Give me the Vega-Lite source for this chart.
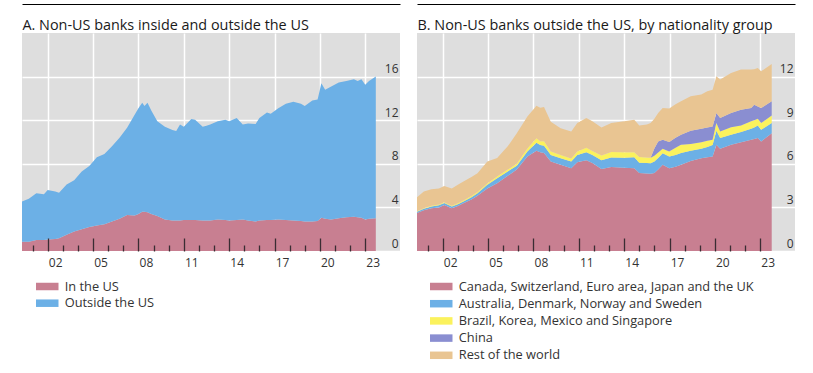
{
  "$schema": "https://vega.github.io/schema/vega-lite/v6.json",
  "background": "white",
  "padding": {"left": 22, "top": 4, "right": 5, "bottom": 5},
  "spacing": 17,
  "resolve": {"scale": {"color": "independent"}, "legend": {"color": "independent"}},
  "config": {
    "view": {"fill": "#dedede", "stroke": null},
    "font": "Open Sans",
    "axis": {"labelFont": "Open Sans", "labelFontSize": 12, "labelColor": "#333333", "titleFont": "Open Sans"},
    "legend": {"labelFont": "Open Sans", "labelFontSize": 12.8, "labelColor": "#333333"}
  },
  "hconcat": [
    {
      "width": 378,
      "height": 218,
      "resolve": {"axis": {"x": "independent"}},
      "layer": [
        {
          "data": {"values": [
            {"t": 2000.25, "k1": 0.85, "k2": 3.65},
            {"t": 2000.75, "k1": 0.86, "k2": 3.94},
            {"t": 2001.25, "k1": 1.0, "k2": 4.3},
            {"t": 2001.75, "k1": 1.0, "k2": 4.2},
            {"t": 2002.0, "k1": 1.05, "k2": 4.55},
            {"t": 2002.5, "k1": 1.1, "k2": 4.35},
            {"t": 2002.75, "k1": 1.17, "k2": 4.18},
            {"t": 2003.25, "k1": 1.5, "k2": 4.6},
            {"t": 2003.75, "k1": 1.8, "k2": 4.7},
            {"t": 2004.25, "k1": 2.0, "k2": 5.3},
            {"t": 2004.75, "k1": 2.2, "k2": 5.6},
            {"t": 2005.25, "k1": 2.35, "k2": 6.25},
            {"t": 2005.75, "k1": 2.45, "k2": 6.45},
            {"t": 2006.25, "k1": 2.7, "k2": 6.9},
            {"t": 2006.75, "k1": 2.95, "k2": 7.45},
            {"t": 2007.25, "k1": 3.3, "k2": 8.0},
            {"t": 2007.75, "k1": 3.25, "k2": 9.25},
            {"t": 2008.0, "k1": 3.4, "k2": 9.7},
            {"t": 2008.25, "k1": 3.6, "k2": 10.0},
            {"t": 2008.4, "k1": 3.6, "k2": 9.7},
            {"t": 2008.6, "k1": 3.55, "k2": 10.05},
            {"t": 2008.85, "k1": 3.4, "k2": 9.5},
            {"t": 2009.25, "k1": 3.2, "k2": 8.7},
            {"t": 2009.75, "k1": 2.9, "k2": 8.5},
            {"t": 2010.25, "k1": 2.8, "k2": 8.3},
            {"t": 2010.5, "k1": 2.8, "k2": 8.2},
            {"t": 2010.75, "k1": 2.8, "k2": 8.8},
            {"t": 2011.0, "k1": 2.85, "k2": 8.55},
            {"t": 2011.5, "k1": 2.85, "k2": 9.25},
            {"t": 2011.75, "k1": 2.85, "k2": 9.2},
            {"t": 2012.25, "k1": 2.8, "k2": 8.6},
            {"t": 2012.5, "k1": 2.8, "k2": 8.7},
            {"t": 2012.75, "k1": 2.8, "k2": 8.8},
            {"t": 2013.25, "k1": 2.9, "k2": 9.0},
            {"t": 2013.75, "k1": 2.85, "k2": 9.2},
            {"t": 2014.0, "k1": 2.8, "k2": 9.1},
            {"t": 2014.5, "k1": 2.85, "k2": 9.35},
            {"t": 2014.9, "k1": 2.9, "k2": 8.7},
            {"t": 2015.25, "k1": 2.8, "k2": 8.9},
            {"t": 2015.75, "k1": 2.7, "k2": 8.95},
            {"t": 2016.0, "k1": 2.8, "k2": 9.4},
            {"t": 2016.5, "k1": 2.85, "k2": 9.85},
            {"t": 2016.75, "k1": 2.85, "k2": 9.75},
            {"t": 2017.25, "k1": 2.9, "k2": 10.2},
            {"t": 2017.75, "k1": 2.85, "k2": 10.65},
            {"t": 2018.25, "k1": 2.8, "k2": 10.9},
            {"t": 2018.75, "k1": 2.75, "k2": 10.75},
            {"t": 2019.0, "k1": 2.7, "k2": 10.6},
            {"t": 2019.5, "k1": 2.7, "k2": 11.1},
            {"t": 2019.85, "k1": 2.75, "k2": 11.15},
            {"t": 2020.1, "k1": 3.05, "k2": 12.35},
            {"t": 2020.35, "k1": 2.95, "k2": 11.85},
            {"t": 2020.75, "k1": 2.9, "k2": 12.2},
            {"t": 2021.25, "k1": 3.0, "k2": 12.45},
            {"t": 2021.75, "k1": 3.1, "k2": 12.5},
            {"t": 2022.25, "k1": 3.15, "k2": 12.6},
            {"t": 2022.5, "k1": 3.1, "k2": 12.5},
            {"t": 2022.75, "k1": 3.05, "k2": 12.7},
            {"t": 2023.0, "k1": 2.9, "k2": 12.35},
            {"t": 2023.25, "k1": 2.95, "k2": 12.65},
            {"t": 2023.7, "k1": 3.0, "k2": 13.0}
          ]},
          "transform": [{"fold": ["k1", "k2"], "as": ["key", "value"]}],
          "mark": {"type": "area", "clip": true},
          "encoding": {
            "x": {"field": "t", "type": "quantitative",
              "scale": {"domain": [2000.3, 2025.3], "nice": false, "zero": false},
              "axis": {"orient": "bottom", "values": [2002, 2005, 2008, 2011, 2014, 2017, 2020, 2023], "grid": true, "gridColor": "#ffffff", "gridWidth": 1.5, "ticks": false, "domain": false, "labelExpr": "slice(toString(datum.value), 2)", "labelOffset": 7.5, "labelPadding": 6, "labelFlush": false, "labelOverlap": false, "title": null, "zindex": 0}},
            "y": {"field": "value", "type": "quantitative", "stack": "zero",
              "scale": {"domain": [0, 20], "nice": false},
              "axis": {"orient": "right", "values": [0, 4, 8, 12, 16], "grid": true, "gridColor": "#ffffff", "gridWidth": 1.5, "ticks": false, "domain": false, "labelAlign": "right", "labelPadding": -2, "labelBaseline": "alphabetic", "labelOffset": -4, "title": null}},
            "color": {"field": "key", "type": "nominal",
              "scale": {"domain": ["k1", "k2"], "range": ["#c87f91", "#6cb0e6"]},
              "legend": {"orient": "none", "legendX": 17.75, "legendY": 246, "title": null, "symbolType": "M-1.5,-0.5H1.5V0.5H-1.5Z", "symbolSize": 225, "symbolStrokeWidth": 0, "labelOffset": 10, "rowPadding": 1.7, "labelExpr": "datum.label == 'k1' ? 'In the US' : 'Outside the US'"}},
            "order": {"field": "key", "sort": "ascending"}
          }
        },
        {
          "data": {"values": [{"t": 2010}]},
          "mark": {"type": "point", "opacity": 0},
          "encoding": {
            "x": {"field": "t", "type": "quantitative",
              "scale": {"domain": [2000.3, 2025.3], "nice": false, "zero": false},
              "axis": {"orient": "bottom", "offset": -13, "values": [2002, 2005, 2008, 2011, 2014, 2017, 2020, 2023], "grid": false, "ticks": true, "tickSize": 13, "tickColor": "#3a2d33", "tickWidth": 1.3, "domain": false, "labels": false, "title": null, "zindex": 2}}
          }
        },
        {
          "data": {"values": [{"t": 2010}]},
          "mark": {"type": "point", "opacity": 0},
          "encoding": {
            "x": {"field": "t", "type": "quantitative",
              "scale": {"domain": [2000.3, 2025.3], "nice": false, "zero": false},
              "axis": {"orient": "bottom", "offset": -6, "values": [2001, 2003, 2004, 2006, 2007, 2009, 2010, 2012, 2013, 2015, 2016, 2018, 2019, 2021, 2022], "grid": false, "ticks": true, "tickSize": 6, "tickColor": "#3a2d33", "tickWidth": 1.3, "domain": false, "labels": false, "title": null, "zindex": 2}}
          }
        },
        {
          "data": {"values": [{"t": 2010}]},
          "mark": {"type": "point", "opacity": 0},
          "encoding": {
            "x": {"field": "t", "type": "quantitative",
              "scale": {"domain": [2000.3, 2025.3], "nice": false, "zero": false},
              "axis": {"orient": "top", "offset": 29, "domain": true, "domainColor": "#000000", "domainWidth": 1, "ticks": false, "labels": false, "grid": false, "title": "A. Non-US banks inside and outside the US", "titleX": 0, "titleY": 25, "titleAlign": "left", "titleAnchor": "start", "titleBaseline": "alphabetic", "titleFontSize": 14.4, "titleFontWeight": "normal", "titleColor": "#1a1a1a"}}
          }
        }
      ]
    },
    {
      "width": 378,
      "height": 218,
      "resolve": {"axis": {"x": "independent"}},
      "layer": [
        {
          "data": {"values": [
            {"t": 2000.25, "k1": 2.6, "k2": 0.08, "k3": 0.04, "k4": 0, "k5": 0.93},
            {"t": 2000.75, "k1": 2.8, "k2": 0.1, "k3": 0.05, "k4": 0, "k5": 1.15},
            {"t": 2001.25, "k1": 2.95, "k2": 0.12, "k3": 0.05, "k4": 0, "k5": 1.13},
            {"t": 2001.75, "k1": 3.0, "k2": 0.15, "k3": 0.05, "k4": 0, "k5": 1.1},
            {"t": 2002.1, "k1": 3.17, "k2": 0.13, "k3": 0.06, "k4": 0, "k5": 1.12},
            {"t": 2002.6, "k1": 2.95, "k2": 0.11, "k3": 0.06, "k4": 0, "k5": 1.18},
            {"t": 2003.0, "k1": 3.1, "k2": 0.12, "k3": 0.06, "k4": 0, "k5": 1.27},
            {"t": 2003.4, "k1": 3.3, "k2": 0.12, "k3": 0.08, "k4": 0, "k5": 1.3},
            {"t": 2003.9, "k1": 3.55, "k2": 0.15, "k3": 0.08, "k4": 0, "k5": 1.32},
            {"t": 2004.3, "k1": 3.8, "k2": 0.18, "k3": 0.08, "k4": 0, "k5": 1.29},
            {"t": 2004.95, "k1": 4.3, "k2": 0.25, "k3": 0.1, "k4": 0, "k5": 1.5},
            {"t": 2005.6, "k1": 4.67, "k2": 0.33, "k3": 0.12, "k4": 0, "k5": 1.28},
            {"t": 2006.3, "k1": 5.17, "k2": 0.3, "k3": 0.13, "k4": 0, "k5": 1.6},
            {"t": 2006.9, "k1": 5.6, "k2": 0.26, "k3": 0.14, "k4": 0, "k5": 2.1},
            {"t": 2007.6, "k1": 6.5, "k2": 0.35, "k3": 0.2, "k4": 0, "k5": 2.21},
            {"t": 2008.2, "k1": 6.9, "k2": 0.55, "k3": 0.3, "k4": 0, "k5": 2.25},
            {"t": 2008.45, "k1": 6.8, "k2": 0.5, "k3": 0.25, "k4": 0, "k5": 2.3},
            {"t": 2008.7, "k1": 6.75, "k2": 0.5, "k3": 0.3, "k4": 0, "k5": 2.35},
            {"t": 2009.15, "k1": 6.15, "k2": 0.45, "k3": 0.25, "k4": 0, "k5": 2.05},
            {"t": 2009.8, "k1": 5.93, "k2": 0.45, "k3": 0.22, "k4": 0, "k5": 1.85},
            {"t": 2010.5, "k1": 5.7, "k2": 0.45, "k3": 0.22, "k4": 0, "k5": 1.86},
            {"t": 2010.9, "k1": 6.1, "k2": 0.5, "k3": 0.25, "k4": 0, "k5": 1.95},
            {"t": 2011.5, "k1": 6.25, "k2": 0.55, "k3": 0.3, "k4": 0, "k5": 2.05},
            {"t": 2011.9, "k1": 6.05, "k2": 0.55, "k3": 0.28, "k4": 0, "k5": 2.04},
            {"t": 2012.5, "k1": 5.65, "k2": 0.6, "k3": 0.32, "k4": 0, "k5": 1.93},
            {"t": 2013.15, "k1": 5.78, "k2": 0.65, "k3": 0.38, "k4": 0, "k5": 1.99},
            {"t": 2014.0, "k1": 5.72, "k2": 0.7, "k3": 0.38, "k4": 0, "k5": 2.12},
            {"t": 2014.67, "k1": 5.7, "k2": 0.75, "k3": 0.35, "k4": 0, "k5": 2.23},
            {"t": 2015.0, "k1": 5.36, "k2": 0.72, "k3": 0.38, "k4": 0, "k5": 2.18},
            {"t": 2015.5, "k1": 5.33, "k2": 0.72, "k3": 0.38, "k4": 0, "k5": 2.27},
            {"t": 2015.75, "k1": 5.31, "k2": 0.72, "k3": 0.38, "k4": 0, "k5": 2.39},
            {"t": 2016.0, "k1": 5.36, "k2": 0.8, "k3": 0.4, "k4": 0.5, "k5": 2.04},
            {"t": 2016.25, "k1": 5.6, "k2": 0.8, "k3": 0.38, "k4": 0.75, "k5": 1.97},
            {"t": 2016.55, "k1": 5.93, "k2": 0.8, "k3": 0.3, "k4": 0.63, "k5": 2.18},
            {"t": 2016.98, "k1": 5.7, "k2": 0.8, "k3": 0.35, "k4": 0.65, "k5": 2.3},
            {"t": 2017.4, "k1": 5.8, "k2": 0.8, "k3": 0.5, "k4": 0.7, "k5": 2.3},
            {"t": 2017.76, "k1": 5.93, "k2": 0.81, "k3": 0.57, "k4": 0.69, "k5": 2.3},
            {"t": 2018.4, "k1": 6.2, "k2": 0.7, "k3": 0.46, "k4": 0.92, "k5": 2.36},
            {"t": 2019.1, "k1": 6.39, "k2": 0.64, "k3": 0.46, "k4": 0.92, "k5": 2.35},
            {"t": 2019.5, "k1": 6.45, "k2": 0.7, "k3": 0.43, "k4": 0.92, "k5": 2.49},
            {"t": 2019.85, "k1": 6.5, "k2": 0.8, "k3": 0.36, "k4": 0.91, "k5": 2.53},
            {"t": 2020.1, "k1": 7.31, "k2": 0.97, "k3": 0.52, "k4": 0.7, "k5": 2.52},
            {"t": 2020.35, "k1": 7.03, "k2": 0.74, "k3": 0.46, "k4": 0.92, "k5": 2.65},
            {"t": 2021.07, "k1": 7.31, "k2": 0.69, "k3": 0.51, "k4": 0.99, "k5": 2.75},
            {"t": 2021.73, "k1": 7.49, "k2": 0.69, "k3": 0.46, "k4": 1.08, "k5": 2.76},
            {"t": 2022.4, "k1": 7.66, "k2": 0.75, "k3": 0.51, "k4": 0.92, "k5": 2.64},
            {"t": 2022.6, "k1": 7.7, "k2": 0.8, "k3": 0.5, "k4": 1.07, "k5": 2.43},
            {"t": 2022.84, "k1": 7.77, "k2": 0.87, "k3": 0.46, "k4": 0.85, "k5": 2.65},
            {"t": 2023.06, "k1": 7.54, "k2": 0.8, "k3": 0.46, "k4": 1.04, "k5": 2.53},
            {"t": 2023.76, "k1": 8.11, "k2": 0.69, "k3": 0.53, "k4": 0.97, "k5": 2.57}
          ]},
          "transform": [{"fold": ["k1", "k2", "k3", "k4", "k5"], "as": ["key", "value"]}],
          "mark": {"type": "area", "clip": true},
          "encoding": {
            "x": {"field": "t", "type": "quantitative",
              "scale": {"domain": [2000.3, 2025.3], "nice": false, "zero": false},
              "axis": {"orient": "bottom", "values": [2002, 2005, 2008, 2011, 2014, 2017, 2020, 2023], "grid": true, "gridColor": "#ffffff", "gridWidth": 1.5, "ticks": false, "domain": false, "labelExpr": "slice(toString(datum.value), 2)", "labelOffset": 7.5, "labelPadding": 6, "labelFlush": false, "labelOverlap": false, "title": null, "zindex": 0}},
            "y": {"field": "value", "type": "quantitative", "stack": "zero",
              "scale": {"domain": [0, 15], "nice": false},
              "axis": {"orient": "right", "values": [0, 3, 6, 9, 12], "grid": true, "gridColor": "#ffffff", "gridWidth": 1.5, "ticks": false, "domain": false, "labelAlign": "right", "labelPadding": -2, "labelBaseline": "alphabetic", "labelOffset": -4, "title": null}},
            "color": {"field": "key", "type": "nominal",
              "scale": {"domain": ["k1", "k2", "k3", "k4", "k5"], "range": ["#c87f91", "#6cb0e6", "#fbf25d", "#8a8ed1", "#e9c592"]},
              "legend": {"orient": "none", "legendX": 16.75, "legendY": 246, "title": null, "symbolType": "M-1.5,-0.5H1.5V0.5H-1.5Z", "symbolSize": 225, "symbolStrokeWidth": 0, "labelOffset": 10, "rowPadding": 2.2, "labelLimit": 400, "labelExpr": "datum.label == 'k1' ? 'Canada, Switzerland, Euro area, Japan and the UK' : datum.label == 'k2' ? 'Australia, Denmark, Norway and Sweden' : datum.label == 'k3' ? 'Brazil, Korea, Mexico and Singapore' : datum.label == 'k4' ? 'China' : 'Rest of the world'"}},
            "order": {"field": "key", "sort": "ascending"}
          }
        },
        {
          "data": {"values": [{"t": 2010}]},
          "mark": {"type": "point", "opacity": 0},
          "encoding": {
            "x": {"field": "t", "type": "quantitative",
              "scale": {"domain": [2000.3, 2025.3], "nice": false, "zero": false},
              "axis": {"orient": "bottom", "offset": -13, "values": [2002, 2005, 2008, 2011, 2014, 2017, 2020, 2023], "grid": false, "ticks": true, "tickSize": 13, "tickColor": "#3a2d33", "tickWidth": 1.3, "domain": false, "labels": false, "title": null, "zindex": 2}}
          }
        },
        {
          "data": {"values": [{"t": 2010}]},
          "mark": {"type": "point", "opacity": 0},
          "encoding": {
            "x": {"field": "t", "type": "quantitative",
              "scale": {"domain": [2000.3, 2025.3], "nice": false, "zero": false},
              "axis": {"orient": "bottom", "offset": -6, "values": [2001, 2003, 2004, 2006, 2007, 2009, 2010, 2012, 2013, 2015, 2016, 2018, 2019, 2021, 2022], "grid": false, "ticks": true, "tickSize": 6, "tickColor": "#3a2d33", "tickWidth": 1.3, "domain": false, "labels": false, "title": null, "zindex": 2}}
          }
        },
        {
          "data": {"values": [{"t": 2010}]},
          "mark": {"type": "point", "opacity": 0},
          "encoding": {
            "x": {"field": "t", "type": "quantitative",
              "scale": {"domain": [2000.3, 2025.3], "nice": false, "zero": false},
              "axis": {"orient": "top", "offset": 29, "domain": true, "domainColor": "#000000", "domainWidth": 1, "ticks": false, "labels": false, "grid": false, "title": "B. Non-US banks outside the US, by nationality group", "titleX": 0, "titleY": 25, "titleAlign": "left", "titleAnchor": "start", "titleBaseline": "alphabetic", "titleFontSize": 14.4, "titleFontWeight": "normal", "titleColor": "#1a1a1a"}}
          }
        }
      ]
    }
  ]
}
